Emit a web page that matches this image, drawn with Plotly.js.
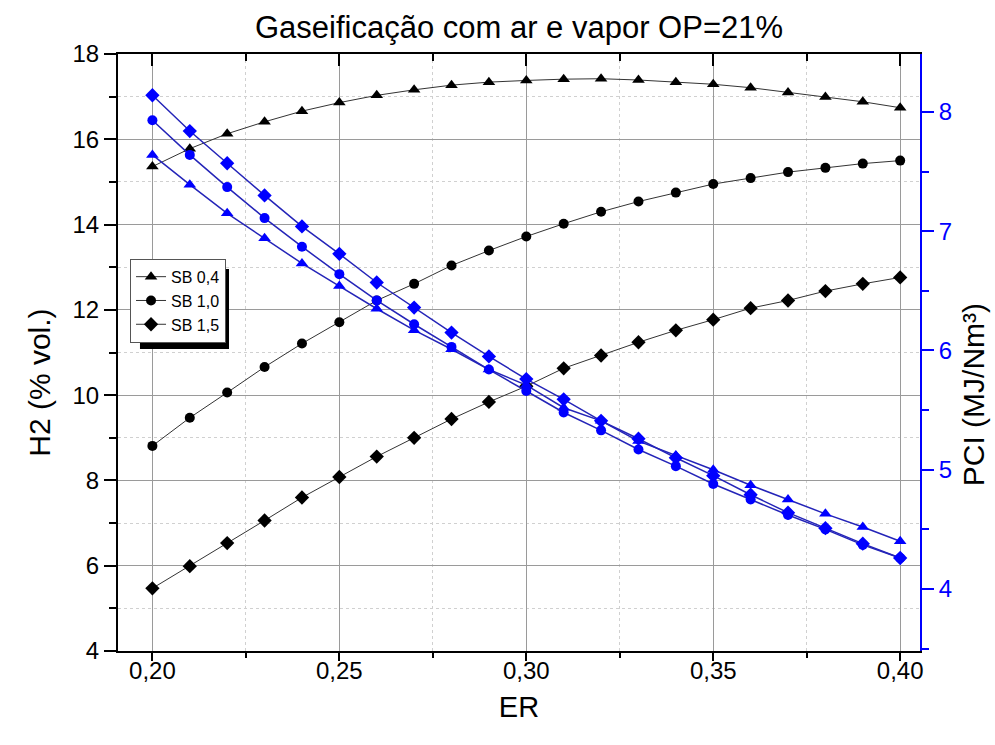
<!DOCTYPE html>
<html>
<head>
<meta charset="utf-8">
<script src="https://cdn.plot.ly/plotly-3.0.1.min.js"></script>
<style>html,body{margin:0;padding:0;background:#fff;}#chart{width:995px;height:745px;}</style>
</head>
<body>
<div id="chart"></div>
<script>
// ---- data ----
const ER = [0.20,0.21,0.22,0.23,0.24,0.25,0.26,0.27,0.28,0.29,0.30,0.31,0.32,0.33,0.34,0.35,0.36,0.37,0.38,0.39,0.40];
const seriesNames = ["SB 0,4","SB 1,0","SB 1,5"];
// H2 (% vol.) - left axis
const h2_sb04 = [15.36,15.78,16.13,16.41,16.66,16.86,17.03,17.16,17.27,17.34,17.38,17.41,17.42,17.39,17.34,17.29,17.21,17.10,16.99,16.88,16.74];
const h2_sb10 = [8.81,9.47,10.06,10.66,11.21,11.71,12.22,12.61,13.04,13.39,13.72,14.02,14.30,14.54,14.75,14.95,15.09,15.23,15.33,15.43,15.50];
const h2_sb15 = [5.47,5.99,6.53,7.06,7.60,8.08,8.56,9.00,9.44,9.84,10.21,10.63,10.93,11.24,11.52,11.77,12.04,12.22,12.44,12.61,12.76];
// PCI (MJ/Nm3) - right axis
const pci_sb04 = [7.64,7.39,7.15,6.94,6.73,6.54,6.35,6.17,6.01,5.84,5.71,5.52,5.41,5.24,5.12,5.00,4.87,4.75,4.63,4.52,4.40];
const pci_sb10 = [7.93,7.64,7.37,7.11,6.87,6.64,6.42,6.22,6.03,5.84,5.66,5.48,5.33,5.17,5.03,4.88,4.75,4.62,4.50,4.37,4.26];
const pci_sb15 = [8.14,7.84,7.57,7.30,7.04,6.81,6.57,6.36,6.15,5.95,5.76,5.59,5.41,5.26,5.10,4.95,4.79,4.64,4.51,4.38,4.26];

const symbols = ["triangle-up","circle","diamond"];
const h2Sets = [h2_sb04,h2_sb10,h2_sb15];
const pciSets = [pci_sb04,pci_sb10,pci_sb15];
const FONT = "Liberation Sans, Arial, sans-serif";

const traces = [];
for (let i=0;i<3;i++){
  traces.push({
    x: ER, y: h2Sets[i], xaxis:'x', yaxis:'y', name: seriesNames[i],
    mode:'lines+markers', line:{color:'#333333', width:1},
    marker:{symbol:symbols[i], size: i===1?10:11, color:'#000000'},
    showlegend:true
  });
}
for (let i=0;i<3;i++){
  traces.push({
    x: ER, y: pciSets[i], xaxis:'x', yaxis:'y2', name: seriesNames[i]+' PCI',
    mode:'lines+markers', line:{color:'#2424b8', width:1.5},
    marker:{symbol:symbols[i], size: i===1?10:11, color:'#0000ff'},
    showlegend:false
  });
}
// carrier for the top (mirror) axis
traces.push({x:[ER[0]], y:[h2_sb04[0]], xaxis:'x2', yaxis:'y', mode:'none', showlegend:false, hoverinfo:'skip'});

const xr = [0.1908, 0.4053];
const layout = {
  width:995, height:745,
  margin:{l:118, r:75, t:54, b:94},
  paper_bgcolor:'#ffffff', plot_bgcolor:'#ffffff',
  separators:',.',
  font:{family:FONT, color:'#000'},
  title:{text:'Gaseificação com ar e vapor OP=21%', font:{size:31, family:FONT, color:'#000'},
         x:0.5, xref:'paper', xanchor:'center', y:0.963, yref:'container', yanchor:'middle'},
  showlegend:true,
  legend:{x:0.015, y:0.657, xanchor:'left', yanchor:'top', bgcolor:'#ffffff',
          bordercolor:'#555555', borderwidth:1, font:{size:16, family:FONT, color:'#000'},
          tracegroupgap:0, itemwidth:30},
  xaxis:{range:xr, dtick:0.05, tick0:0.2, tickformat:'.2f', ticks:'outside', ticklen:8, tickwidth:2, tickcolor:'#000',
         ticklabelstandoff:-11,
         showline:true, linecolor:'#000', linewidth:2, zeroline:false,
         showgrid:true, gridcolor:'#9a9a9a', gridwidth:1,
         minor:{dtick:0.025, tick0:0.2, ticks:'outside', ticklen:5, tickwidth:2, tickcolor:'#000', showgrid:true, gridcolor:'#d0d0d0', griddash:'dot', gridwidth:1},
         tickfont:{size:24, family:FONT, color:'#000'},
         title:{text:'ER', font:{size:29, family:FONT, color:'#000'}, standoff:14}},
  xaxis2:{range:xr, overlaying:'x', side:'top', dtick:0.05, tick0:0.2, ticks:'inside', ticklen:12, tickwidth:2, tickcolor:'#000',
          showticklabels:false, showline:true, linecolor:'#000', linewidth:2, showgrid:false, zeroline:false,
          minor:{dtick:0.025, tick0:0.2, ticks:'inside', ticklen:7, tickwidth:2, tickcolor:'#000', showgrid:false}},
  yaxis:{range:[4,18], dtick:2, tick0:4, ticks:'outside', ticklen:12, tickwidth:2, tickcolor:'#000',
         showline:true, linecolor:'#000', linewidth:2, zeroline:false,
         showgrid:true, gridcolor:'#9a9a9a', gridwidth:1,
         minor:{dtick:1, tick0:4, ticks:'outside', ticklen:7, tickwidth:2, tickcolor:'#000', showgrid:true, gridcolor:'#d0d0d0', griddash:'dot', gridwidth:1},
         tickfont:{size:24, family:FONT, color:'#000'}},
  yaxis2:{range:[3.48,8.486], overlaying:'y', side:'right', dtick:1, tick0:4, ticks:'outside', ticklen:12, tickwidth:2, tickcolor:'#0000ff',
          showline:true, linecolor:'#0000ff', linewidth:2, zeroline:false, showgrid:false,
          minor:{dtick:0.5, tick0:4, ticks:'outside', ticklen:7, tickwidth:2, tickcolor:'#0000ff', showgrid:false},
          tickfont:{size:24, family:FONT, color:'#0000ff'}},
  shapes:[
    {type:'rect', xref:'paper', yref:'paper', x0:0.0274, x1:0.1384, y0:0.5059, y1:0.6399,
     fillcolor:'#000000', line:{width:0}, layer:'above'}
  ],
  annotations:[
    {text:'H2 (% vol.)', xref:'paper', yref:'paper', x:-0.098, y:0.45, textangle:-90, showarrow:false,
     xanchor:'center', yanchor:'middle', font:{size:30, family:FONT, color:'#000'}},
    {text:'PCI (MJ/Nm³)', xref:'paper', yref:'paper', x:1.066, y:0.43, textangle:-90, showarrow:false,
     xanchor:'center', yanchor:'middle', font:{size:30, family:FONT, color:'#000'}}
  ]
};
Plotly.newPlot('chart', traces, layout, {displayModeBar:false, staticPlot:true});
</script>
</body>
</html>
